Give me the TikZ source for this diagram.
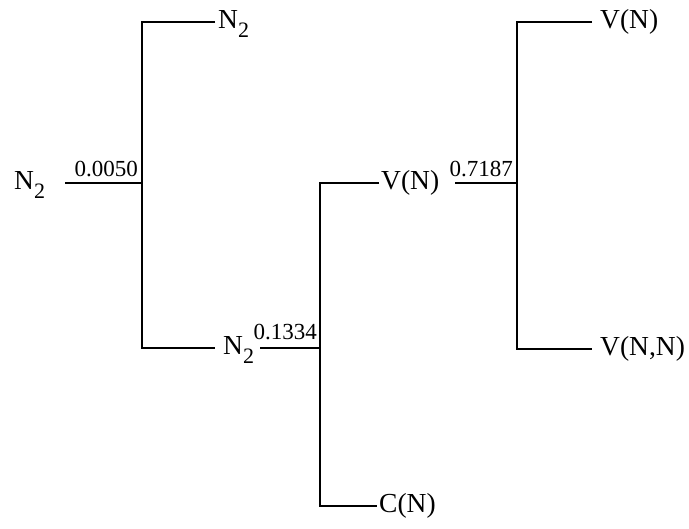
\documentclass[tikz,border=0pt]{standalone}
\usepackage{fontspec}
\setmainfont{Liberation Serif}
\usetikzlibrary{positioning}
\newcommand{\ntwo}{N\raisebox{-0.32em}{\fontsize{22}{24}\selectfont 2}}
\tikzset{
  leaf/.style   ={inner sep=0pt,anchor=west,text height=20pt,text depth=6pt,
                  font=\fontsize{27.5}{30}\selectfont},
  prob/.style   ={inner sep=0pt,anchor=base east,font=\fontsize{23}{26}\selectfont},
  branch/.style ={line width=1.4pt,black},
}

\begin{document}
\begin{tikzpicture}[x=1pt,y=-1pt]
    \useasboundingbox (0,0) rectangle (689,529);

    % split points
    \coordinate (j1) at (142,183);
    \coordinate (j2) at (320,348);
    \coordinate (j3) at (517,183);

    % labels
    \node[leaf] (root) at (14,183)  {\ntwo};
    \node[leaf] (na)   at (218,22)  {\ntwo};
    \node[leaf] (nb)   at (223,348) {\ntwo};
    \node[leaf] (vm)   at (381,183) {V(N)};
    \node[leaf] (cn)   at (379,506) {C(N)};
    \node[leaf] (vt)   at (600,22)  {V(N)};
    \node[leaf] (vnn)  at (600,349) {V(N,N)};

    % split values
    \node[prob] (p1) at (138,177) {0.0050};
    \node[prob] (p2) at (317,340) {0.1334};
    \node[prob] (p3) at (513,177) {0.7187};

    % branches
    \draw[branch] ([xshift=20pt]root.east) -- (j1);
    \draw[branch] ([xshift=-3pt]na.west) -| (j1) |- ([xshift=-8pt]nb.west);
    \draw[branch] ([xshift=6pt]nb.east) -- (j2);
    \draw[branch] ([xshift=-2pt]vm.west) -| (j2) |- ([xshift=-2pt]cn.west);
    \draw[branch] ([xshift=16pt]vm.east) -- (j3);
    \draw[branch] ([xshift=-8pt]vt.west) -| (j3) |- ([xshift=-8pt]vnn.west);
\end{tikzpicture}
\end{document}
